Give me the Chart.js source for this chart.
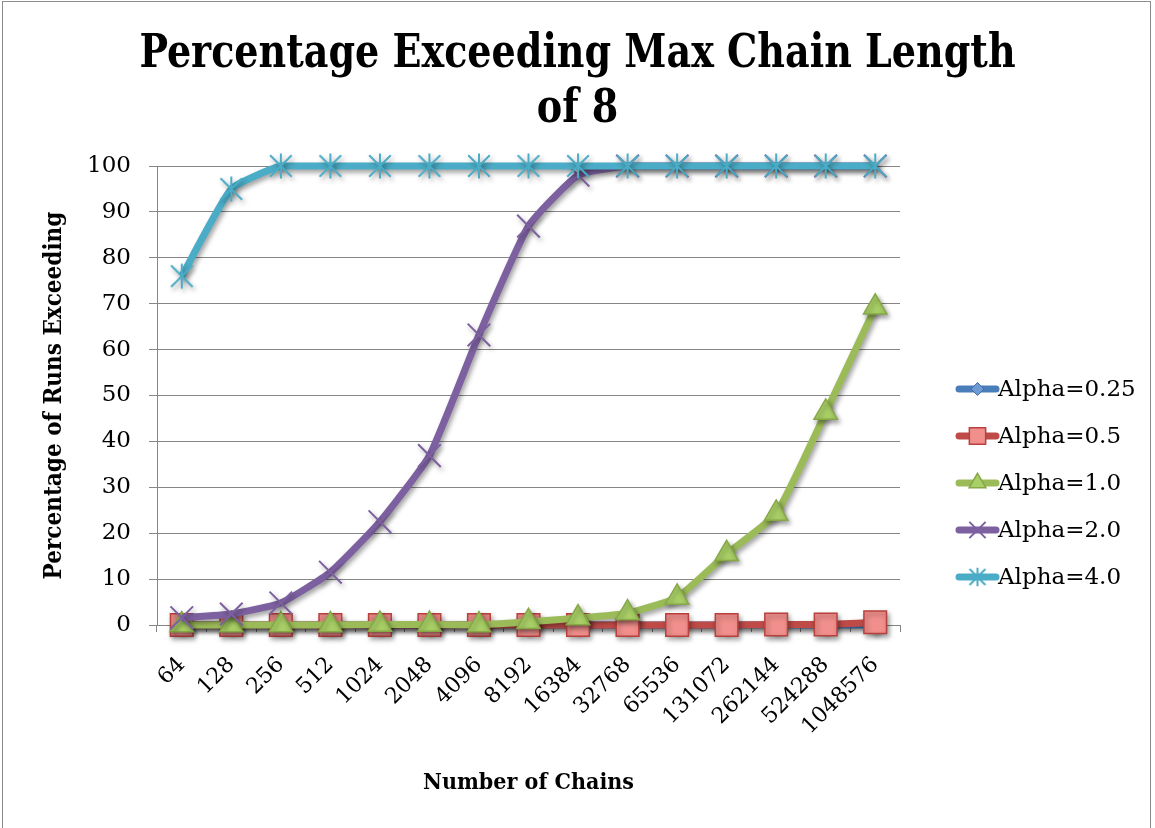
<!DOCTYPE html>
<html>
<head>
<meta charset="utf-8">
<script src="https://cdn.jsdelivr.net/npm/chart.js@4.4.1/dist/chart.umd.min.js"></script>
<style>
  html, body { margin: 0; padding: 0; background: #fff; }
  #wrap { position: relative; width: 1155px; height: 828px; overflow: hidden; background: #fff; }
  #frame { position: absolute; left: 2px; top: 1px; width: 1149px; height: 900px; border: 1px solid #8c8c8c; box-sizing: border-box; }
  #c { position: absolute; left: 0; top: 0; }
</style>
</head>
<body>
<div id="wrap">
  <div id="frame"></div>
  <canvas id="c" width="1155" height="828"></canvas>
</div>
<script>
// Number of chains (x categories)
const chainCounts = ['64', '128', '256', '512', '1024', '2048', '4096', '8192',
  '16384', '32768', '65536', '131072', '262144', '524288', '1048576'];

// Percentage of runs exceeding a max chain length of 8, per load factor
const alpha025 = [0, 0, 0, 0, 0, 0, 0, 0, 0, 0, 0, 0, 0, 0, 0];
const alpha05  = [0, 0, 0, 0, 0, 0, 0, 0, 0, 0, 0, 0, 0.1, 0.1, 0.6];
const alpha10  = [0, 0, 0, 0, 0.1, 0.1, 0, 0.7, 1.5, 2.6, 6.0, 15.5, 24.3, 46.3, 69.2];
const alpha20  = [1.6, 2.4, 4.8, 11.5, 22.5, 36.9, 63.2, 86.9, 98.0, 100, 100, 100, 100, 100, 100];
const alpha40  = [76, 95, 100, 100, 100, 100, 100, 100, 100, 100, 100, 100, 100, 100, 100];

const seriesNames = ['Alpha=0.25', 'Alpha=0.5', 'Alpha=1.0', 'Alpha=2.0', 'Alpha=4.0'];
const titleLines = ['Percentage Exceeding Max Chain Length', 'of 8'];
const yMin = 0, yMax = 100, yStep = 10;

const serif = "'DejaVu Serif', 'Liberation Serif', serif";
const serifCond = "'DejaVu Serif Condensed', 'DejaVu Serif', serif";

// Asterisk marker: diagonal cross plus a vertical bar
function asteriskMarker(color, size) {
  const cv = document.createElement('canvas');
  cv.width = size; cv.height = size;
  const g = cv.getContext('2d');
  const c = size / 2, d = size * 0.36, v = size * 0.42;
  g.strokeStyle = color;
  g.lineWidth = 2;
  g.beginPath();
  g.moveTo(c - d, c - d); g.lineTo(c + d, c + d);
  g.moveTo(c + d, c - d); g.lineTo(c - d, c + d);
  g.moveTo(c, c - v); g.lineTo(c, c + v);
  g.stroke();
  return cv;
}
const starBig = asteriskMarker('#4AACC6', 30);
const starSmall = asteriskMarker('#4AACC6', 22);

const styles = [
  { line: '#4A7EBB', fill: '#6E9BD2', edge: '#3F6FA8', shape: 'rectRot', r: 9, bw: 1, order: 4 },
  { line: '#BE4B48', fill: '#F08F8C', edge: '#B8413E', shape: 'rect', r: 16, bw: 1.5, order: 3 },
  { line: '#9BBB59', fill: '#A9D066', edge: '#86A847', shape: 'triangle', r: 13.5, bw: 1.5, order: 2 },
  { line: '#7D60A0', fill: '#7D60A0', edge: '#7D60A0', shape: 'crossRot', r: 16, bw: 2, order: 1 },
  { line: '#4AACC6', fill: '#4AACC6', edge: '#4AACC6', shape: starBig, legendShape: starSmall, r: 14, bw: 2, order: 0 }
];
const seriesData = [alpha025, alpha05, alpha10, alpha20, alpha40];

const datasets = seriesData.map((d, i) => ({
  label: seriesNames[i],
  data: d,
  borderColor: styles[i].line,
  borderWidth: 7,
  pointStyle: styles[i].shape,
  pointRadius: styles[i].r,
  pointHoverRadius: styles[i].r,
  pointBackgroundColor: styles[i].fill,
  pointBorderColor: styles[i].edge,
  pointBorderWidth: styles[i].bw,
  tension: 0.15,
  order: styles[i].order,
  clip: false
}));

// Soft drop shadow under lines and markers
const dropShadow = {
  id: 'dropShadow',
  beforeDatasetDraw(chart) {
    const ctx = chart.ctx;
    ctx.save();
    ctx.shadowColor = 'rgba(0,0,0,0.38)';
    ctx.shadowBlur = 5;
    ctx.shadowOffsetX = 2;
    ctx.shadowOffsetY = 3;
  },
  afterDatasetDraw(chart) { chart.ctx.restore(); }
};

// Two-line title centred across the whole canvas
const chartTitle = {
  id: 'chartTitle',
  afterDraw(chart) {
    const ctx = chart.ctx;
    const cx = chart.width / 2;
    ctx.save();
    ctx.fillStyle = '#000';
    ctx.font = 'bold 47px ' + serifCond;
    ctx.textAlign = 'center';
    ctx.textBaseline = 'alphabetic';
    const sx = 0.90;
    ctx.translate(cx, 0);
    ctx.scale(sx, 1);
    ctx.fillText(titleLines[0], 0, 67);
    ctx.fillText(titleLines[1], 0, 122);
    ctx.restore();
  }
};

// Legend on the right: thick line sample with the series marker in the middle
const sideLegend = {
  id: 'sideLegend',
  afterDraw(chart) {
    const ctx = chart.ctx;
    const area = chart.chartArea;
    const x0 = area.right + 59, x1 = x0 + 37;
    const firstY = area.top + 223, gap = 47;
    ctx.save();
    chart.data.datasets.forEach((ds, i) => {
      const s = styles[i];
      const y = firstY + i * gap;
      ctx.strokeStyle = s.line;
      ctx.lineWidth = 7;
      ctx.lineCap = 'round';
      ctx.beginPath();
      ctx.moveTo(x0, y);
      ctx.lineTo(x1, y);
      ctx.stroke();
      ctx.fillStyle = s.fill;
      ctx.strokeStyle = s.edge;
      ctx.lineWidth = s.bw;
      ctx.lineCap = 'butt';
      Chart.helpers.drawPoint(ctx, { pointStyle: s.legendShape || s.shape, rotation: 0, radius: s.r * 0.72, borderWidth: s.bw }, (x0 + x1) / 2, y);
      ctx.fillStyle = '#000';
      ctx.font = '23px ' + serif;
      ctx.textAlign = 'left';
      ctx.textBaseline = 'middle';
      ctx.fillText(ds.label, x1 + 2, y + 1);
    });
    ctx.restore();
  }
};

new Chart(document.getElementById('c'), {
  type: 'line',
  data: { labels: chainCounts, datasets },
  plugins: [dropShadow, chartTitle, sideLegend],
  options: {
    responsive: false,
    devicePixelRatio: 1,
    animation: false,
    layout: { padding: { left: 28, right: 255, top: 166, bottom: 20 } },
    plugins: {
      legend: { display: false },
      tooltip: { enabled: false },
      title: { display: false }
    },
    scales: {
      x: {
        offset: true,
        grid: { display: true, drawOnChartArea: false, drawTicks: true, tickLength: 7, color: '#868686', offset: true },
        border: { display: true, color: '#868686', width: 1 },
        ticks: { color: '#000', font: { family: serif, size: 22 }, maxRotation: 45, minRotation: 45, padding: 20, autoSkip: false },
        title: {
          display: true, text: 'Number of Chains', color: '#000',
          font: { family: serifCond, size: 23, weight: 'bold' },
          padding: { top: 0, bottom: 11 }
        },
        afterFit(scale) { scale.height = 183; }
      },
      y: {
        min: yMin, max: yMax,
        grid: { color: '#868686', lineWidth: 1, tickLength: 8, drawTicks: true },
        border: { display: true, color: '#868686', width: 1 },
        ticks: { stepSize: yStep, color: '#000', font: { family: serif, size: 23 }, padding: 18 },
        title: {
          display: true, text: 'Percentage of Runs Exceeding', color: '#000',
          font: { family: serifCond, size: 24, weight: 'bold' },
          padding: { top: 12, bottom: 0 }
        },
        afterFit(scale) { scale.width = 129; }
      }
    }
  }
});
</script>
</body>
</html>
